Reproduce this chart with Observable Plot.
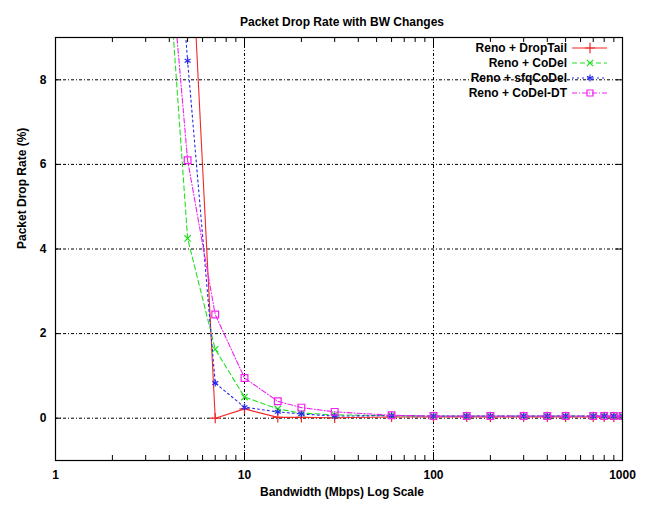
<!DOCTYPE html>
<html><head><meta charset="utf-8">
<script src="https://cdn.jsdelivr.net/npm/d3@7"></script>
<script src="https://cdn.jsdelivr.net/npm/@observablehq/plot@0.6"></script>
<style>body{margin:0;background:#fff}</style>
</head><body><div id="chart"></div>
<script>
const bandwidth = [4, 5, 7, 10, 15, 20, 30, 60, 100, 150, 200, 300, 400, 500, 700, 800, 900, 1000];
const dropTail  = [20, 13, 0, 0.22, 0.02, 0.02, 0.01, 0.03, 0.03, 0.03, 0.03, 0.03, 0.03, 0.03, 0.03, 0.03, 0.03, 0.03];
const coDel     = [10.4, 4.25, 1.63, 0.5, 0.22, 0.12, 0.08, 0.06, 0.05, 0.05, 0.05, 0.05, 0.05, 0.05, 0.05, 0.05, 0.05, 0.05];
const sfqCoDel  = [14, 8.45, 0.83, 0.26, 0.15, 0.1, 0.05, 0.06, 0.05, 0.05, 0.05, 0.05, 0.05, 0.05, 0.05, 0.05, 0.05, 0.05];
const coDelDT   = [11.1, 6.1, 2.45, 0.95, 0.4, 0.25, 0.15, 0.07, 0.05, 0.05, 0.05, 0.05, 0.05, 0.05, 0.05, 0.05, 0.05, 0.05];
const seriesNames = ["Reno + DropTail", "Reno + CoDel", "Reno + sfqCoDel", "Reno + CoDel-DT"];
const seriesValues = [dropTail, coDel, sfqCoDel, coDelDT];
const seriesColors = ["#f02828", "#22e022", "#2828f0", "#f020f0"];
const seriesDash = [null, "5,3", "2,3", "5,2,1,2"];
const seriesSymbols = ["plus", "times", "asterisk", "square"];
const seriesR = [3.4, 3.0, 3.2, 3.8];
const xTickValues = [1, 10, 100, 1000];
const yTickValues = [0, 2, 4, 6, 8];
const xGridValues = [10, 100];
const xMinorValues = [2,3,4,5,6,7,8,9,20,30,40,50,60,70,80,90,200,300,400,500,600,700,800,900];
const title = "Packet Drop Rate with BW Changes";
const xLabel = "Bandwidth (Mbps) Log Scale";
const yLabel = "Packet Drop Rate (%)";

const rows = [];
seriesNames.forEach((name, s) => {
  bandwidth.forEach((bw, i) => rows.push({series: name, s, bw, v: seriesValues[s][i]}));
});

const W = 648, H = 506, mt = 37, mr = 26, mb = 46, ml = 55;
const fh = H - mt - mb, fw = W - ml - mr;

const marks = [
  Plot.ruleX(xGridValues, {stroke: "#000", strokeWidth: 1, strokeDasharray: "3,2,1,2"}),
  Plot.ruleY(yTickValues, {stroke: "#000", strokeWidth: 1, strokeDasharray: "3,2,1,2"}),
  Plot.tickX(xMinorValues, {x: d => d, insetTop: fh - 5, stroke: "#000"}),
  Plot.tickX(xMinorValues, {x: d => d, insetBottom: fh - 5, stroke: "#000"}),
  Plot.tickX(xGridValues, {x: d => d, insetTop: fh - 8, stroke: "#000"}),
  Plot.tickX(xGridValues, {x: d => d, insetBottom: fh - 8, stroke: "#000"}),
  Plot.tickY(yTickValues, {y: d => d, insetRight: fw - 6, stroke: "#000"}),
  Plot.tickY(yTickValues, {y: d => d, insetLeft: fw - 6, stroke: "#000"}),
];
seriesNames.forEach((name, s) => {
  const data = rows.filter(d => d.s === s);
  marks.push(Plot.line(data, {x: "bw", y: "v", stroke: seriesColors[s], strokeWidth: 1.1, strokeDasharray: seriesDash[s], clip: true}));
  marks.push(Plot.dot(data, {x: "bw", y: "v", stroke: seriesColors[s], fill: "none", symbol: seriesSymbols[s], r: seriesR[s], strokeWidth: 1.2, clip: true}));
});
marks.push(Plot.frame({stroke: "#000", strokeWidth: 1.2}));
marks.push(Plot.text([title], {frameAnchor: "top", dy: -20, dx: 3, fontSize: 12, fontWeight: "bold"}));
marks.push(Plot.text([xLabel], {frameAnchor: "bottom", dy: 35, dx: 3, fontSize: 12, fontWeight: "bold"}));
marks.push(Plot.text([yLabel], {frameAnchor: "left", dx: -33, rotate: -90, fontSize: 12, fontWeight: "bold"}));

const chart = Plot.plot({
  width: W, height: H,
  marginTop: mt, marginRight: mr, marginBottom: mb, marginLeft: ml,
  style: {fontFamily: "'Liberation Sans', Arial, sans-serif", fontSize: "12px", fontWeight: "bold", background: "#fff", color: "#000"},
  x: {type: "log", domain: [1, 1000], ticks: xTickValues, tickFormat: d => String(d), tickSize: 0, tickPadding: 10, label: null},
  y: {domain: [-1, 9], ticks: yTickValues, tickFormat: d => String(d), tickSize: 0, tickPadding: 9, label: null},
  marks
});
document.getElementById("chart").appendChild(chart);

// legend (top-right, inside the frame)
const svg = d3.select(chart);
const lg = svg.append("g").attr("font-family", "'Liberation Sans', Arial, sans-serif").attr("font-size", 12).attr("font-weight", "bold");
const symMap = {plus: d3.symbolPlus, times: d3.symbolTimes, asterisk: d3.symbolAsterisk, square: d3.symbolSquare2};
seriesNames.forEach((name, s) => {
  const y = 48 + 15 * s;
  lg.append("text").attr("x", 567).attr("y", y).attr("dy", "0.35em").attr("text-anchor", "end").attr("fill", "#000").text(name);
  lg.append("line").attr("x1", 572).attr("x2", 607).attr("y1", y).attr("y2", y)
    .attr("stroke", seriesColors[s]).attr("stroke-width", 1.1).attr("stroke-dasharray", seriesDash[s]);
  lg.append("path").attr("transform", `translate(590,${y})`).attr("d", d3.symbol(symMap[seriesSymbols[s]], seriesR[s] * seriesR[s] * Math.PI)())
    .attr("stroke", seriesColors[s]).attr("fill", "none").attr("stroke-width", 1.2);
});
</script>
</body></html>
